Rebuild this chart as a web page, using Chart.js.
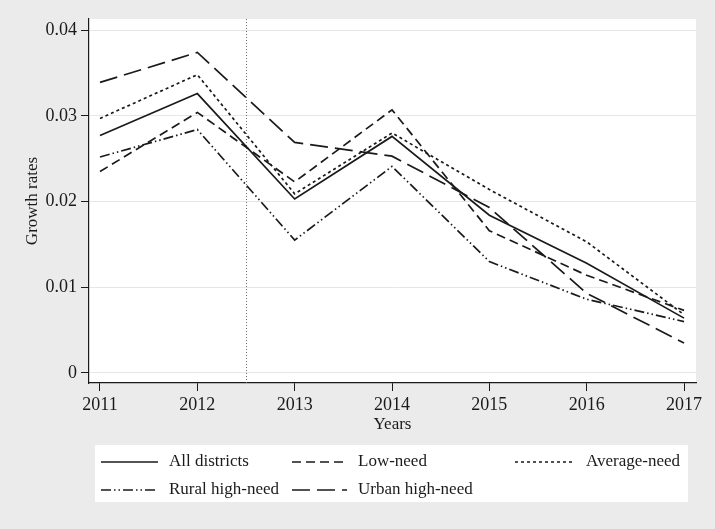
<!DOCTYPE html>
<html>
<head>
<meta charset="utf-8">
<script src="https://cdn.jsdelivr.net/npm/chart.js@4"></script>
<style>
  html, body { margin: 0; padding: 0; background: #ebebeb; }
  #wrap { width: 715px; height: 529px; }
</style>
</head>
<body>
<div id="wrap"><canvas id="chart" width="715" height="529"></canvas></div>
<script>
// data
const years = [2011, 2012, 2013, 2014, 2015, 2016, 2017];
const allDistricts = [0.0277, 0.0326, 0.0203, 0.0276, 0.0184, 0.0128, 0.0064];
const lowNeed = [0.0235, 0.0304, 0.0223, 0.0307, 0.0166, 0.0114, 0.0073];
const averageNeed = [0.0297, 0.0348, 0.0209, 0.0280, 0.0214, 0.0153, 0.0068];
const ruralHighNeed = [0.0252, 0.0284, 0.0155, 0.0241, 0.0130, 0.0086, 0.0060];
const urbanHighNeed = [0.0339, 0.0374, 0.0269, 0.0253, 0.0193, 0.0093, 0.0035];
const yTicks = [0, 0.01, 0.02, 0.03, 0.04];
const yTickLabels = ["0", "0.01", "0.02", "0.03", "0.04"];
const breakYear = 2012.5;

const serif = "'Liberation Serif', 'Times New Roman', serif";
const ink = "#1a1a1a";

const toPoints = (vals) => vals.map((v, i) => ({ x: years[i], y: v }));

const series = [
  { label: "All districts", data: allDistricts, dash: [] },
  { label: "Low-need", data: lowNeed, dash: [9, 5] },
  { label: "Average-need", data: averageNeed, dash: [3, 3] },
  { label: "Rural high-need", data: ruralHighNeed, dash: [10, 3, 1.5, 3, 1.5, 3] },
  { label: "Urban high-need", data: urbanHighNeed, dash: [18, 7] },
];

// plot background + vertical reference line
const backdrop = {
  id: "backdrop",
  beforeDraw(chart) {
    const { ctx, chartArea: a } = chart;
    ctx.save();
    ctx.fillStyle = "#ebebeb";
    ctx.fillRect(0, 0, chart.width, chart.height);
    ctx.fillStyle = "#ffffff";
    ctx.fillRect(a.left, a.top, a.right - a.left, a.bottom - a.top);
    ctx.restore();
  },
  beforeDatasetsDraw(chart) {
    const { ctx, chartArea: a } = chart;
    const x = Math.round(chart.scales.x.getPixelForValue(breakYear)) + 0.5;
    ctx.save();
    ctx.strokeStyle = "#707070";
    ctx.lineWidth = 1;
    ctx.setLineDash([1, 2]);
    ctx.beginPath();
    ctx.moveTo(x, a.top);
    ctx.lineTo(x, a.bottom);
    ctx.stroke();
    ctx.restore();
  },
};

// stata-style legend box below the axis
const legendBox = {
  id: "legendBox",
  afterDraw(chart) {
    const { ctx } = chart;
    const box = { left: 95, top: 445, right: 688, bottom: 502 };
    const cols = [{ x: 101, len: 57 }, { x: 292, len: 55 }, { x: 515, len: 60 }];
    const rows = [462, 490];
    ctx.save();
    ctx.fillStyle = "#ffffff";
    ctx.fillRect(box.left, box.top, box.right - box.left, box.bottom - box.top);
    ctx.font = "17px " + serif;
    ctx.textBaseline = "middle";
    series.forEach((s, i) => {
      const c = cols[i % 3];
      const cy = rows[Math.floor(i / 3)];
      ctx.strokeStyle = ink;
      ctx.lineWidth = 1.6;
      ctx.setLineDash(s.dash);
      ctx.beginPath();
      ctx.moveTo(c.x, cy);
      ctx.lineTo(c.x + c.len, cy);
      ctx.stroke();
      ctx.setLineDash([]);
      ctx.fillStyle = ink;
      ctx.fillText(s.label, c.x + c.len + 11, cy);
    });
    ctx.restore();
  },
};

new Chart(document.getElementById("chart"), {
  type: "line",
  data: {
    datasets: series.map((s) => ({
      label: s.label,
      data: toPoints(s.data),
      borderColor: ink,
      borderWidth: 1.7,
      borderDash: s.dash,
      pointRadius: 0,
      tension: 0,
      fill: false,
    })),
  },
  options: {
    responsive: false,
    animation: false,
    layout: { padding: { top: 19, right: 19, bottom: 94, left: 0 } },
    plugins: {
      legend: { display: false },
      tooltip: { enabled: false },
    },
    scales: {
      x: {
        type: "linear",
        min: 2010.887,
        max: 2017.123,
        afterFit(scale) { scale.height = 52; },
        afterBuildTicks(scale) { scale.ticks = years.map((v) => ({ value: v })); },
        ticks: {
          color: ink,
          font: { family: serif, size: 18 },
          padding: 3,
          maxRotation: 0,
          callback: (v) => String(v),
        },
        grid: { drawOnChartArea: false, tickColor: ink, tickLength: 8 },
        border: { color: ink, width: 1.2 },
        title: {
          display: true,
          text: "Years",
          color: ink,
          font: { family: serif, size: 17 },
          padding: { top: 0, bottom: 0 },
        },
      },
      y: {
        min: -0.00117,
        max: 0.0413,
        afterFit(scale) { scale.width = 89; },
        afterBuildTicks(scale) { scale.ticks = yTicks.map((v) => ({ value: v })); },
        ticks: {
          color: ink,
          font: { family: serif, size: 18 },
          padding: 4,
          callback: (v) => yTickLabels[yTicks.indexOf(v)],
        },
        grid: { color: "#e6e6e6", tickColor: ink, tickLength: 8 },
        border: { color: ink, width: 1.2 },
        title: {
          display: true,
          text: "Growth rates",
          color: ink,
          font: { family: serif, size: 17 },
          padding: { top: 22, bottom: 0 },
        },
      },
    },
  },
  plugins: [backdrop, legendBox],
});
</script>
</body>
</html>
